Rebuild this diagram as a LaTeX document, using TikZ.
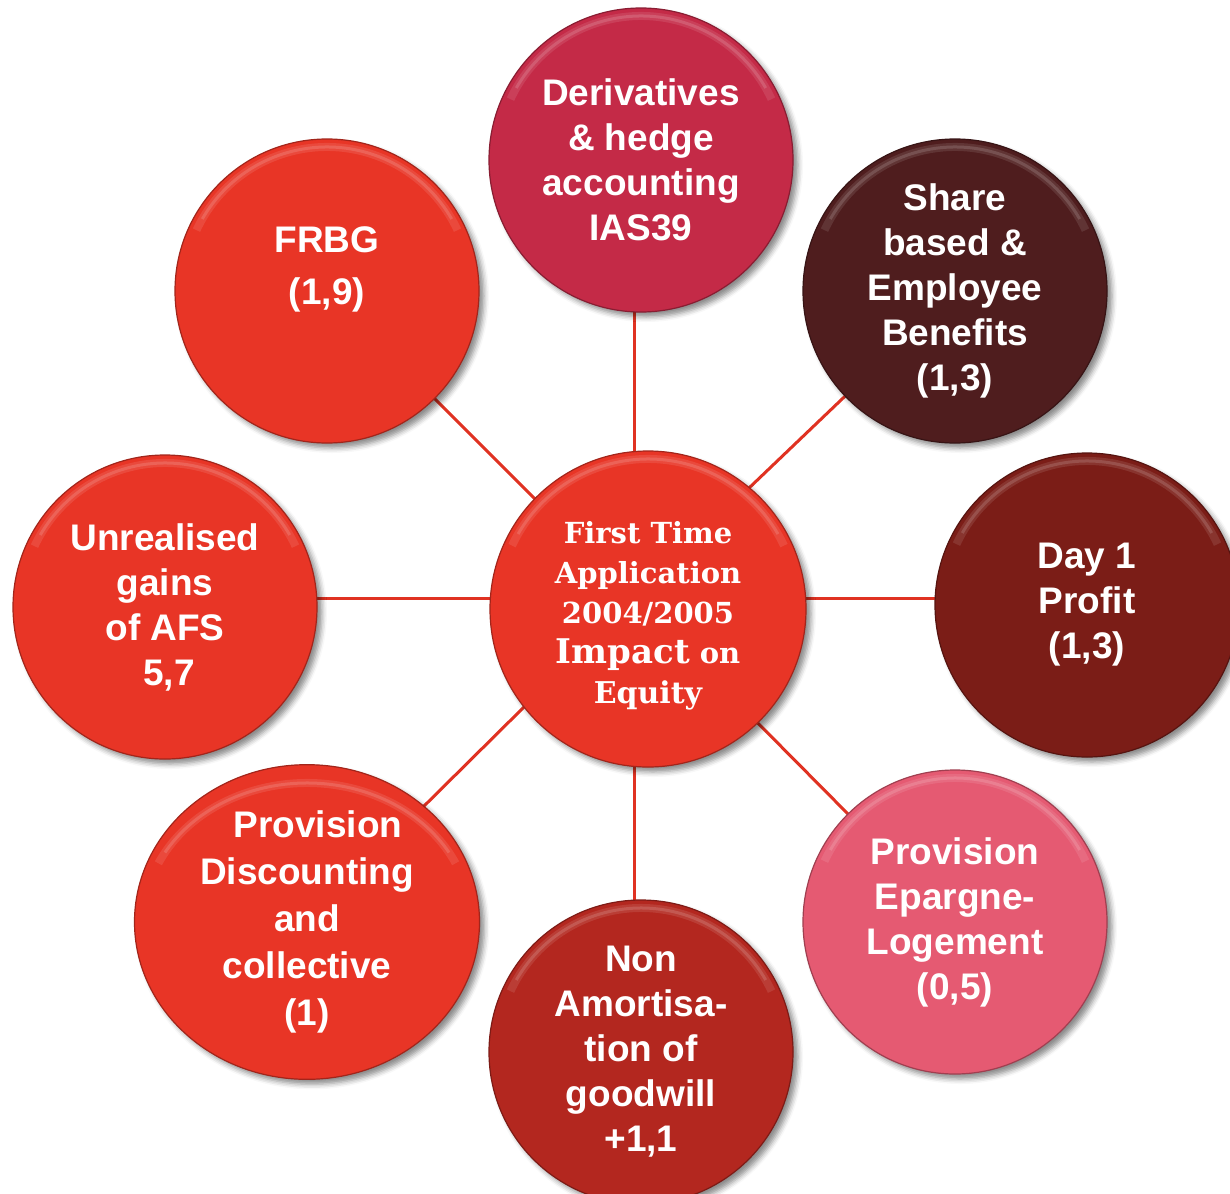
\documentclass[tikz,border=0pt]{standalone}
\usepackage{fontspec}
\setmainfont{Liberation Sans}
\newfontfamily\hubfont{DejaVu Serif}
\usetikzlibrary{shapes.geometric,backgrounds,shadows.blur}

\definecolor{brightred}{HTML}{E83526}
\definecolor{crimson}{HTML}{C42A47}
\definecolor{maroon}{HTML}{4F1D1E}
\definecolor{dayred}{HTML}{7B1D17}
\definecolor{rosepink}{HTML}{E55A72}
\definecolor{brickred}{HTML}{B3271F}
\definecolor{spokered}{HTML}{E03222}

\begin{document}
\begin{tikzpicture}[x=1pt,y=-1pt,
  bevel/.style={path picture={
      \draw[white,opacity=.10,line width=8pt]
        (path picture bounding box.center) ++(155:#1) arc[start angle=155,end angle=25,radius=#1];
      \draw[white,opacity=.14,line width=3pt]
        (path picture bounding box.center) ++(150:#1) arc[start angle=150,end angle=30,radius=#1];
  }},
  shade3d/.style={blur shadow={shadow xshift=5pt,shadow yshift=-5pt,shadow blur radius=5pt,shadow opacity=45}},
  bubble/.style={circle,minimum size=304pt,inner sep=0pt,fill=#1,draw=#1!70!black,line width=1.2pt,
    text=white,align=center,font=\bfseries\fontsize{37}{45}\selectfont,shade3d,bevel=144pt},
  spoke/.style={draw=spokered,line width=3pt}]

\path[use as bounding box] (0,0) rectangle (1230,1193);

% hub of the spokes
\coordinate (hub) at (634,598);

% centre button
\node[circle,minimum size=316pt,inner sep=0pt,fill=brightred,draw=brightred!70!black,line width=1.2pt,
      text=white,align=center,font=\hubfont\bfseries\fontsize{29}{40}\selectfont,shade3d,bevel=150pt]
  (core) at (648,609)
  {\rule{0pt}{36pt}First Time\\Application\\2004/2005\\{\fontsize{34}{40}\selectfont Impact} on\\{\fontsize{30}{40}\selectfont Equity}};

% surrounding buttons
\node[bubble=crimson] (deriv) at (641,160) {Derivatives\\\&{} hedge\\accounting\\IAS39};
\node[bubble=maroon] (share) at (955,291) {Share\\based \&\\Employee\\Benefits\\(1,3)};
\node[bubble=dayred] (day1) at (1087,605) {Day 1\\Profit\\(1,3)};
\node[bubble=rosepink] (epl) at (955,922) {Provision\\Epargne-\\Logement\\(0,5)};
\node[bubble=brickred] (nonam) at (641,1052) {Non\\Amortisa-\\tion of\\goodwill\\+1,1};
\node[ellipse,minimum width=345pt,minimum height=295pt,inner sep=0pt,fill=brightred,
      draw=brightred!70!black,line width=1.2pt,text=white,align=center,
      font=\bfseries\fontsize{37}{47}\selectfont,shade3d,
      path picture={
        \draw[white,opacity=.10,line width=8pt]
          (path picture bounding box.center) ++(155:164pt and 139pt) arc[start angle=155,end angle=25,x radius=164pt,y radius=139pt];
        \draw[white,opacity=.14,line width=3pt]
          (path picture bounding box.center) ++(150:164pt and 139pt) arc[start angle=150,end angle=30,x radius=164pt,y radius=139pt];
      }]
  (disc) at (307,922) {\hspace*{22pt}Provision\\Discounting\\and\\collective\\(1)};
\node[bubble=brightred] (afs) at (165,607) {Unrealised\\gains\\of AFS\\\hspace*{8pt}5,7};
\node[bubble=brightred,label={[text=white,align=center,font=\bfseries\fontsize{37}{52}\selectfont,yshift=22pt]center:FRBG\\(1,9)}]
  (frbg) at (327,291) {};

% spokes behind the buttons
\begin{scope}[on background layer]
  \draw[spoke] (hub) -- (hub |- deriv.center);
  \draw[spoke] (hub) -- (hub |- nonam.center);
  \draw[spoke] (hub) -- (hub -| day1.center);
  \draw[spoke] (hub) -- (hub -| afs.center);
  \draw[spoke] (hub) -- (frbg.center);
  \draw[spoke] (hub) -- (share.center);
  \draw[spoke] (hub) -- (epl.center);
  \draw[spoke] (hub) -- (disc.center);
\end{scope}
\end{tikzpicture}
\end{document}
